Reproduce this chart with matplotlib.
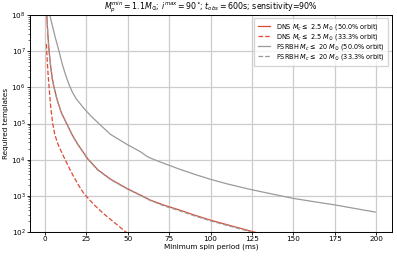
import numpy as np
import matplotlib
matplotlib.use('Agg')
import matplotlib.pyplot as plt
from matplotlib.ticker import NullFormatter

# values (x: ms, y: log10 of required templates)
dns50_x = [1.2, 1.8, 2.6, 3.5, 4.5, 5.6, 7.5, 10.0, 13.2, 16.6, 20.0, 26.0, 32.0, 40.0, 49.7,
           57.7, 63.7, 72.0, 81.7, 90.0, 99.7, 110.0, 123.7, 127.0]
dns50_y = [8.0, 7.5, 7.0, 6.6, 6.25, 6.0, 5.65, 5.3, 5.0, 4.68, 4.42, 4.02, 3.72, 3.45, 3.2,
           3.02, 2.88, 2.74, 2.6, 2.47, 2.33, 2.2, 2.03, 1.99]

dns33_x = [1.0, 1.5, 2.0, 2.6, 3.5, 4.6, 6.0, 8.0, 10.2, 13.0, 16.6, 20.0, 23.6, 30.0, 35.6,
           42.0, 48.6, 50.0]
dns33_y = [7.2, 6.7, 6.35, 6.0, 5.5, 5.05, 4.7, 4.42, 4.2, 3.93, 3.6, 3.32, 3.06, 2.74, 2.5,
           2.26, 2.01, 1.96]

bh50_x = [3.0, 4.5, 6.5, 8.6, 10.5, 12.5, 14.6, 16.5, 19.0, 23.6, 28.0, 32.6, 39.6, 49.7,
          57.7, 62.0, 65.0, 70.0, 81.7, 90.0, 99.7, 110.0, 123.7, 135.0, 149.7, 162.0,
          174.8, 187.0, 199.4]
bh50_y = [8.0, 7.72, 7.35, 7.0, 6.65, 6.35, 6.08, 5.88, 5.68, 5.42, 5.2, 5.0, 4.7, 4.42,
          4.22, 4.08, 4.02, 3.93, 3.73, 3.6, 3.46, 3.33, 3.18, 3.07, 2.93, 2.84,
          2.75, 2.65, 2.55]

bh33_x = [1.2, 1.8, 2.6, 3.5, 4.5, 5.6, 7.5, 10.0, 13.2, 16.6, 20.0, 26.0, 32.0, 40.0, 49.7,
          57.7, 63.7, 72.0, 81.7, 90.0, 99.7, 110.0, 123.7, 127.0]
bh33_y = [8.0, 7.49, 6.99, 6.59, 6.24, 5.99, 5.64, 5.29, 4.99, 4.67, 4.41, 4.01, 3.71, 3.44,
          3.19, 3.01, 2.87, 2.72, 2.58, 2.45, 2.31, 2.18, 2.01, 1.97]

labels = [r'DNS $M_c \leq$ 2.5 $M_{\odot}$ (50.0% orbit)',
          r'DNS $M_c \leq$ 2.5 $M_{\odot}$ (33.3% orbit)',
          r'PSRBH $M_c \leq$ 20 $M_{\odot}$ (50.0% orbit)',
          r'PSRBH $M_c \leq$ 20 $M_{\odot}$ (33.3% orbit)']

red = '#dc4a35'
grey = '#9a9a9a'

fig = plt.figure(figsize=(3.97, 2.56), dpi=100)
ax = fig.add_axes([0.0756, 0.094, 0.911, 0.847])

ax.plot(dns50_x, 10 ** np.array(dns50_y), '-', color=red, lw=0.9, label=labels[0])
ax.plot(dns33_x, 10 ** np.array(dns33_y), '--', color=red, lw=0.9, label=labels[1])
ax.plot(bh50_x, 10 ** np.array(bh50_y), '-', color=grey, lw=0.9, label=labels[2])
ax.plot(bh33_x, 10 ** np.array(bh33_y), '--', color=grey, lw=0.9, label=labels[3])

ax.set_yscale('log')
ax.set_ylim(1e2, 1e8)
ax.yaxis.set_minor_formatter(NullFormatter())
ax.set_xticks([0, 25, 50, 75, 100, 125, 150, 175, 200])
ax.grid(True, which='major', color='#cccccc', lw=0.9)
ax.set_axisbelow(True)
ax.tick_params(labelsize=5.2, length=2.0, width=0.6, pad=1.2)
ax.tick_params(which='minor', length=1.3, width=0.4)
for s in ax.spines.values():
    s.set_linewidth(0.7)

ax.set_xlabel('Minimum spin period (ms)', fontsize=5.2, labelpad=0.8)
ax.set_ylabel('Required templates', fontsize=5.2, labelpad=1.5)
ax.set_title(r'$M_p^{min} = 1.1M_{\odot}$; $i^{max} = 90^{\circ}$; $t_{obs} = 600$s; sensitivity=90%',
             fontsize=5.7, pad=2)
ax.legend(loc='upper right', fontsize=4.7, frameon=True, fancybox=False,
          handlelength=1.9, handletextpad=0.9, borderpad=0.6, labelspacing=0.0,
          borderaxespad=0.5)

fig.savefig('out.png', dpi=100)
